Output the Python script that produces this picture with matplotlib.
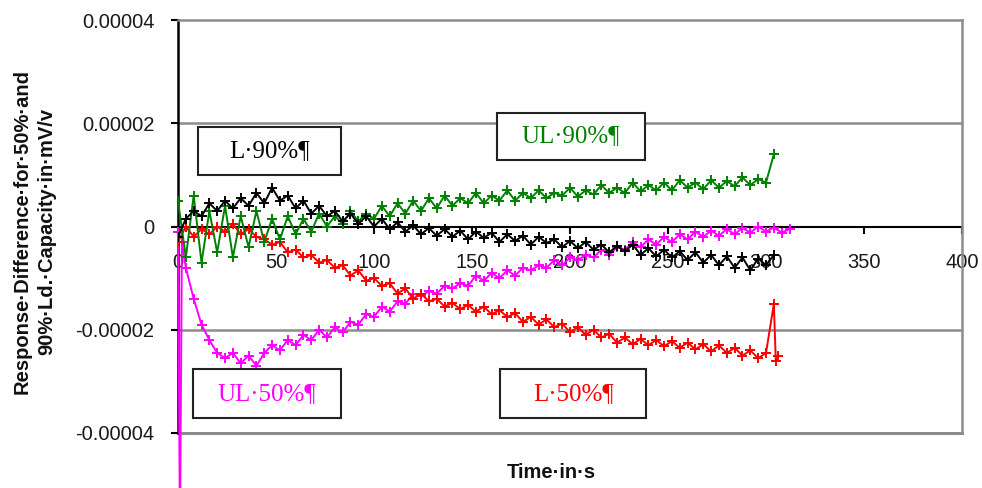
import numpy as np
import matplotlib.pyplot as plt
from matplotlib.patches import Rectangle

# values in 1e-6 mV/V
l90 = [-2, 1.5, 3, 2, 4.5, 3, 5, 3.5, 5.5, 4, 6.5, 4.5, 7.5, 5, 6, 3.5, 5, 2.5, 4, 2,
       3, 1, 2.5, 0.5, 2, 0, 1.5, -0.5, 0.8, -1, 0.2, -1.5, -0.3, -1.8, -0.5, -2, -0.8, -2.5, -1, -2.2,
       -1.2, -3, -1.5, -2.8, -1.8, -3.5, -2, -3.2, -2.5, -4, -2.8, -4.2, -3, -4.5, -3.5, -5, -3.8, -4.8,
       -3.5, -5.5, -4.2, -5.8, -4.5, -6, -4.8, -6.5, -5, -7, -5.5, -7.5, -5.8, -8, -6, -8.5, -6.2, -7.5, -5.5]
ul90 = [5, -6, 6, -7, 3, -5, 4, -6, 2, -4, 3, -3, 1.5, -2.5, 2, -1.5, 1.5, -1, 2.5, 0,
        2, 0.5, 3, 1, 2.5, 1.5, 4, 2, 4.5, 2.5, 5, 3, 5.5, 3.5, 6, 4, 5.5, 4.5, 6.5, 4.5,
        6, 5, 7, 5, 6.5, 5.5, 7, 5.5, 6.5, 6, 7.5, 5.8, 7, 6.2, 8, 6.5, 7.5, 6.5, 8.5, 6.8,
        8, 7, 8.5, 7, 9, 7.5, 8.5, 7.2, 9, 7.5, 8.8, 7.8, 9.5, 8, 9.2, 8.5, 14]
l50 = [-3, 0, -2, -0.5, -1.5, 0, -1, 0.5, -1.5, -0.5, -2, -2.5, -3.5, -3, -5, -4.5, -6, -5.5, -7, -6.5,
       -8, -7.5, -9.5, -8.5, -10.5, -10, -11.5, -11, -13, -12, -14, -13, -14.5, -14, -15.5, -14.8, -16, -15.2,
       -16.5, -15.5, -17, -16.2, -17.5, -16.8, -18.5, -17.5, -19, -18, -19.5, -18.8, -20.5, -19.5, -21, -20,
       -21.5, -20.8, -22.5, -21.5, -22.8, -21.8, -23, -22, -23.2, -22.2, -23.5, -22.5, -23.8, -22.8, -24.2, -23,
       -24.5, -23.5, -25, -24, -25.5, -24.5, -15, -26, -25]
ul50 = [-1, -60, -3, -8, -14, -19, -22, -24.5, -25.5, -24.5, -26.5, -25, -27, -24.5, -23, -24, -22, -23,
        -21, -22, -20, -21.5, -19.5, -20.5, -18.5, -19, -17, -17.5, -15.5, -16.5, -14.5, -15, -13, -13.5,
        -12.5, -13, -11.5, -12, -11, -11.5, -9.5, -10.5, -9, -10, -8.5, -9.5, -8, -8.5, -7.5, -8, -6.5, -7.5,
        -6, -6.5, -5.5, -6, -4.5, -5.5, -4, -4.5, -3, -4, -2.5, -3.5, -2, -3, -1.5, -2.5, -1, -2, -0.8, -1.8,
        -0.5, -1.5, -0.3, -1.2, 0, -1, -0.2, -1.2, -0.5]

t_l90 = np.arange(0, 305, 4)
t_ul90 = np.arange(0, 305, 4)
t_l50 = np.append(np.arange(0, 305, 4), [305, 306])
t_ul50 = np.append([0, 1, 2], np.arange(4, 313, 4))

labels = ['L·90%¶', 'UL·90%¶', 'UL·50%¶', 'L·50%¶']

plt.rcParams['font.family'] = ['Liberation Sans', 'DejaVu Sans']

fig = plt.figure(figsize=(9.82, 4.88), dpi=100)
ax = fig.add_axes([178 / 982, 1 - 433 / 488, 784 / 982, 413 / 488])

kw = dict(marker='+', markersize=7, markeredgewidth=1.4, linewidth=1.4)
ax.plot(t_ul50, np.array(ul50) * 1e-6, color='#ff00ff', clip_on=False, zorder=3, **kw)
ax.plot(t_l50, np.array(l50) * 1e-6, color='#ff0000', zorder=4, **kw)
ax.plot(t_ul90, np.array(ul90) * 1e-6, color='#008000', zorder=5, **kw)
ax.plot(t_l90, np.array(l90) * 1e-6, color='black', zorder=6, **kw)

ax.set_xlim(0, 400)
ax.set_ylim(-0.00004, 0.00004)
ax.set_yticks([-0.00004, -0.00002, 0, 0.00002, 0.00004])
ax.set_yticklabels(['-0.00004', '-0.00002', '0', '0.00002', '0.00004'])
ax.set_xticks(range(0, 401, 50))
ax.set_xticklabels([str(v) for v in range(0, 401, 50)])

for y in [-0.00002, 0.00002]:
    ax.axhline(y, color='#8c8c8c', linewidth=1.8, zorder=1)

for s in ['top', 'right']:
    ax.spines[s].set_color('#8c8c8c')
    ax.spines[s].set_linewidth(1.8)
ax.spines['left'].set_color('black')
ax.spines['left'].set_linewidth(1.8)
ax.spines['bottom'].set_position(('data', 0))
ax.spines['bottom'].set_color('black')
ax.spines['bottom'].set_linewidth(1.5)
ax.spines['bottom'].set_zorder(2)
# bottom border of the plot area
ax.axhline(-0.00004, color='#8c8c8c', linewidth=2.2, zorder=1, clip_on=False)

ax.tick_params(axis='y', direction='out', length=5, width=1.5, pad=12, labelsize=14.5, labelcolor='#1a1a1a')
ax.tick_params(axis='x', direction='out', length=5, width=1.5, pad=14, labelsize=14.5, labelcolor='#1a1a1a')

fig.text(0.035, 1 - 231 / 488, 'Response·Difference·for·50%·and\n90%·Ld.·Capacity·in·mV/v', rotation=90,
         ha='center', va='center', fontsize=14.5, fontweight='bold', linespacing=1.35, color='#111111')
fig.text(507 / 982, 1 - 472 / 488, 'Time·in·s', ha='left', va='center', fontsize=14.5,
         fontweight='bold', color='#111111')

boxes = [(0.1167, 0.683, 0.182, 0.116, '#000000'),
         (0.501, 0.718, 0.189, 0.114, '#008000'),
         (0.1135, 0.0956, 0.189, 0.119, '#ff00ff'),
         (0.504, 0.0956, 0.186, 0.119, '#ff0000')]
for (cx, cy, w, h, c), lab in zip(boxes, labels):
    ax.add_patch(Rectangle((cx - w / 2, cy - h / 2), w, h, transform=ax.transAxes,
                           facecolor='white', edgecolor='#222222', linewidth=1.5, zorder=7))
    ax.text(cx, cy, lab, transform=ax.transAxes, ha='center', va='center', fontsize=18,
            family=['Liberation Serif', 'DejaVu Serif'], color=c, zorder=8)

fig.savefig('out.png', dpi=100)
